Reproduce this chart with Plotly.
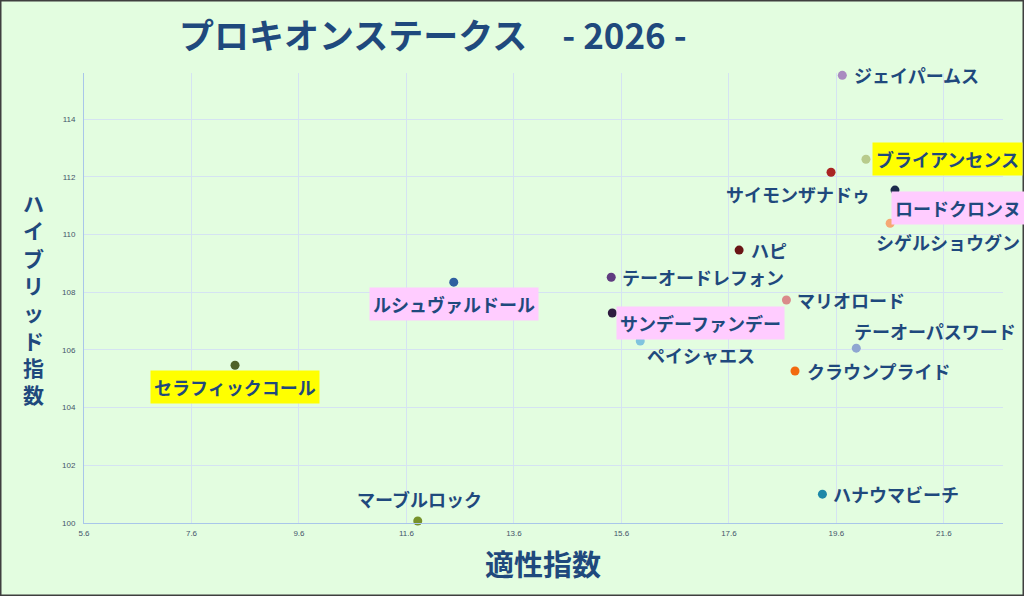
import plotly.graph_objects as go

# -----------------------------
# data
# -----------------------------
horses = ["ジェイパームス", "ブライアンセンス", "サイモンザナドゥ", "ロードクロンヌ",
          "シゲルショウグン", "ハピ", "テーオードレフォン", "ルシュヴァルドール",
          "マリオロード", "サンデーファンデー", "ペイシャエス", "テーオーパスワード",
          "セラフィックコール", "クラウンプライド", "ハナウマビーチ", "マーブルロック"]
aptitude = [19.71, 20.15, 19.50, 20.69, 20.60, 17.79, 15.41, 12.48,
            18.67, 15.43, 15.95, 19.97, 8.41, 18.83, 19.34, 11.81]
hybrid = [115.52, 112.61, 112.16, 111.54, 110.39, 109.46, 108.52, 108.35,
          107.73, 107.28, 106.31, 106.06, 105.47, 105.27, 101.00, 100.07]
x_ticks = [5.6, 7.6, 9.6, 11.6, 13.6, 15.6, 17.6, 19.6, 21.6]
y_ticks = [100, 102, 104, 106, 108, 110, 112, 114]

# -----------------------------
# styles
# -----------------------------
dot_colors = ["#A98BC0", "#B8CB8C", "#AA2424", "#1C2B4B",
              "#F5A874", "#6A1515", "#603C80", "#2F5FA0",
              "#DA8A8A", "#2E1B3F", "#80C4DE", "#8FA6D1",
              "#4F6228", "#F26A10", "#1E88A8", "#77922B"]
# (xanchor, xshift, yshift, background)
label_pos = {
    "ジェイパームス": ("left", 8, 0, None),
    "ブライアンセンス": ("left", 6, 0, "#FFFF00"),
    "サイモンザナドゥ": ("center", -33, -22, None),
    "ロードクロンヌ": ("left", -4, -18, "#FFCCFF"),
    "シゲルショウグン": ("left", -18, -19, None),
    "ハピ": ("left", 8, 0, None),
    "テーオードレフォン": ("left", 7, 0, None),
    "ルシュヴァルドール": ("center", 0, -22, "#FFCCFF"),
    "マリオロード": ("left", 7, 0, None),
    "サンデーファンデー": ("left", 4, -10, "#FFCCFF"),
    "ペイシャエス": ("left", 3, -14, None),
    "テーオーパスワード": ("left", -6, 17, None),
    "セラフィックコール": ("center", 0, -22, "#FFFF00"),
    "クラウンプライド": ("left", 8, 0, None),
    "ハナウマビーチ": ("left", 7, 0, None),
    "マーブルロック": ("center", 2, 22, None),
}
TEXT = "#1F497D"
BG = "#E3FDE0"
JP = "Noto Sans CJK JP"
TICK_FONT = dict(family="Liberation Sans Narrow, Arial Narrow, sans-serif", size=8, color="#44546A")

# plot area in pixels: x 84..1003, y 73..523
def px_x(p):
    return (p - 84) / 919

def px_y(p):
    return (523 - p) / 450

fig = go.Figure()
fig.add_trace(go.Scatter(
    x=aptitude, y=hybrid, mode="markers", text=horses,
    marker=dict(size=9, color=dot_colors, line=dict(width=0)),
    hoverinfo="text+x+y", cliponaxis=False, showlegend=False))

for name, xv, yv in zip(horses, aptitude, hybrid):
    anchor, dx, dy, bg = label_pos[name]
    fig.add_annotation(
        x=xv, y=yv, xref="x", yref="y", text=f"<b>{name}</b>", showarrow=False,
        xanchor=anchor, yanchor="middle", xshift=dx, yshift=dy,
        font=dict(family=JP, size=18, color=TEXT),
        bgcolor=bg if bg else "rgba(0,0,0,0)", borderpad=3)

# title and axis titles
fig.add_annotation(x=px_x(433), y=px_y(33), xref="paper", yref="paper",
                   text="<b>プロキオンステークス　- 2026 -</b>", showarrow=False,
                   xanchor="center", yanchor="middle",
                   font=dict(family=JP, size=35, color=TEXT))
fig.add_annotation(x=px_x(543), y=px_y(563), xref="paper", yref="paper",
                   text="<b>適性指数</b>", showarrow=False,
                   xanchor="center", yanchor="middle",
                   font=dict(family=JP, size=29, color=TEXT))
# vertical title, one upright character per line
fig.add_annotation(x=px_x(33), y=px_y(298), xref="paper", yref="paper",
                   text="<b>" + "<br>".join("ハイブリッド指数") + "</b>", showarrow=False,
                   xanchor="center", yanchor="middle",
                   font=dict(family=JP, size=21, color=TEXT))

# frame around the picture
fig.add_shape(type="rect", xref="paper", yref="paper",
              x0=px_x(0), x1=px_x(1024), y0=px_y(596), y1=px_y(0),
              line=dict(color="#3F3F3F", width=3), layer="above")

fig.update_xaxes(range=[5.6, 22.7], tickvals=x_ticks, ticktext=[f"{v:.1f}" for v in x_ticks],
                 showgrid=True, gridcolor="#D5E3F2", gridwidth=1, zeroline=False,
                 showline=True, linecolor="#A9C6EA", linewidth=1, ticks="",
                 ticklabelstandoff=2, tickfont=TICK_FONT)
fig.update_yaxes(range=[100, 115.6], tickvals=y_ticks,
                 showgrid=True, gridcolor="#D5E3F2", gridwidth=1, zeroline=False,
                 showline=True, linecolor="#A9C6EA", linewidth=1, ticks="",
                 ticklabelstandoff=6, tickfont=TICK_FONT)
fig.update_layout(
    width=1024, height=596,
    margin=dict(l=84, r=21, t=73, b=73),
    paper_bgcolor=BG, plot_bgcolor=BG,
)

fig.write_html("out.html", config={"displayModeBar": False},
               post_script="document.body.style.margin='0';")
